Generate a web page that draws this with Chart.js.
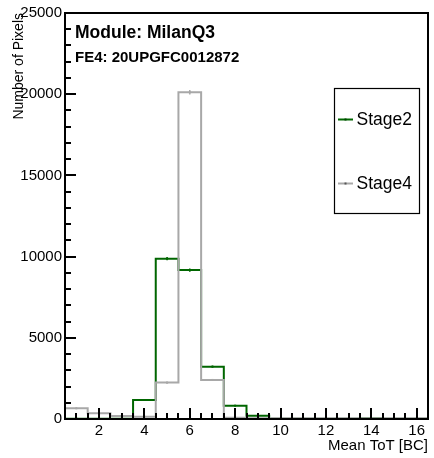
<!DOCTYPE html>
<html>
<head>
<meta charset="utf-8">
<script src="https://cdn.jsdelivr.net/npm/chart.js@4/dist/chart.umd.min.js"></script>
<style>
html,body{margin:0;padding:0;background:#fff;}
#c{display:block;}
</style>
</head>
<body>
<canvas id="c" width="434" height="458"></canvas>
<script>
// ---- data ----
const binCenters = [1, 2, 3, 4, 5, 6, 7, 8, 9, 10, 11, 12, 13, 14, 15, 16];
const stage2 = [20, 10, 10, 1170, 9870, 9170, 3225, 820, 200, 10, 10, 10, 10, 40, 10, 10];
const stage4 = [660, 350, 185, 140, 2240, 20120, 2405, 80, 50, 40, 40, 40, 40, 40, 40, 40];
const seriesNames = ['Stage2', 'Stage4'];
const xTicks = [2, 4, 6, 8, 10, 12, 14, 16];
const yTicks = [0, 5000, 10000, 15000, 20000, 25000];
const titleLine1 = 'Module: MilanQ3';
const titleLine2 = 'FE4: 20UPGFC0012872';
const xTitle = 'Mean ToT [BC]';
const yTitle = 'Number of Pixels';

const GREEN = '#006600';
const GRAY = '#a8a8a8';
const FONT = '"Liberation Sans", Arial, sans-serif';

function stepPoints(vals) {
  const pts = binCenters.map((c, i) => ({x: c - 0.5, y: vals[i]}));
  pts.push({x: binCenters[binCenters.length - 1] + 0.5, y: vals[vals.length - 1]});
  return pts;
}

const errPlugin = {
  id: 'errbars',
  afterDatasetDraw(chart, args) {
    const ds = chart.data.datasets[args.index];
    const vals = ds._vals;
    const ctx = chart.ctx, xs = chart.scales.x, ys = chart.scales.y;
    ctx.save();
    ctx.strokeStyle = ds.borderColor;
    ctx.lineWidth = 1.5;
    binCenters.forEach((c, i) => {
      const v = vals[i];
      if (v <= 0) return;
      const e = Math.sqrt(v);
      const px = xs.getPixelForValue(c);
      ctx.beginPath();
      ctx.moveTo(px, ys.getPixelForValue(v - e));
      ctx.lineTo(px, ys.getPixelForValue(v + e));
      ctx.stroke();
      ctx.fillStyle = ds.borderColor;
      ctx.fillRect(px - 1, ys.getPixelForValue(v) - 1, 2, 2);
    });
    ctx.restore();
  }
};

const framePlugin = {
  id: 'frame',
  afterDraw(chart) {
    const ctx = chart.ctx, a = chart.chartArea, xs = chart.scales.x, ys = chart.scales.y;
    ctx.save();
    ctx.strokeStyle = '#000';
    ctx.lineWidth = 2;
    for (let v = 1; v <= 16; v += 0.5) {
      const px = Math.round(xs.getPixelForValue(v));
      const len = (v % 2 === 0) ? 11 : 6;
      ctx.beginPath();
      ctx.moveTo(px, a.bottom);
      ctx.lineTo(px, a.bottom - len);
      ctx.stroke();
    }
    for (let v = 1000; v < 25000; v += 1000) {
      const py = Math.round(ys.getPixelForValue(v));
      const len = (v % 5000 === 0) ? 11 : 6;
      ctx.beginPath();
      ctx.moveTo(a.left, py);
      ctx.lineTo(a.left + len, py);
      ctx.stroke();
    }
    ctx.strokeRect(a.left, a.top, a.right - a.left, a.bottom - a.top);

    ctx.fillStyle = '#000';
    ctx.font = 'bold 17.5px ' + FONT;
    ctx.textAlign = 'left';
    ctx.textBaseline = 'alphabetic';
    ctx.fillText(titleLine1, 75, 37.5);
    ctx.font = 'bold 15px ' + FONT;
    ctx.fillText(titleLine2, 75, 61.5);

    ctx.font = '15px ' + FONT;
    ctx.textAlign = 'right';
    ctx.fillText(xTitle, 428, 450);
    ctx.save();
    ctx.translate(23, 13);
    ctx.rotate(-Math.PI / 2);
    ctx.font = '14px ' + FONT;
    ctx.textAlign = 'right';
    ctx.fillText(yTitle, 0, 0);
    ctx.restore();

    ctx.fillStyle = '#fff';
    ctx.fillRect(334.5, 88.5, 85, 125);
    ctx.lineWidth = 1.2;
    ctx.strokeStyle = '#000';
    ctx.strokeRect(334.5, 88.5, 85, 125);
    const entries = [{y: 119.5, c: GREEN, mk: '#004400'}, {y: 183.5, c: GRAY, mk: '#555'}];
    entries.forEach((en, i) => {
      ctx.strokeStyle = en.c;
      ctx.lineWidth = 2;
      ctx.beginPath();
      ctx.moveTo(338, en.y);
      ctx.lineTo(353, en.y);
      ctx.stroke();
      ctx.fillStyle = en.mk;
      ctx.fillRect(344.5, en.y - 1, 2, 2);
      ctx.fillStyle = '#000';
      ctx.font = '17.5px ' + FONT;
      ctx.textAlign = 'left';
      ctx.textBaseline = 'middle';
      ctx.fillText(seriesNames[i], 356.5, en.y + 1);
    });
    ctx.restore();
  }
};

new Chart(document.getElementById('c'), {
  type: 'line',
  data: {
    datasets: [
      {label: seriesNames[0], data: stepPoints(stage2), _vals: stage2, borderColor: GREEN, borderWidth: 2,
       stepped: 'before', pointRadius: 0, fill: false, order: 2},
      {label: seriesNames[1], data: stepPoints(stage4), _vals: stage4, borderColor: GRAY, borderWidth: 2,
       stepped: 'before', pointRadius: 0, fill: false, order: 1}
    ]
  },
  options: {
    responsive: false,
    animation: false,
    devicePixelRatio: 1,
    layout: {padding: {left: 0, top: 13, right: 6, bottom: 0}},
    plugins: {legend: {display: false}, tooltip: {enabled: false}},
    scales: {
      x: {
        type: 'linear', min: 0.5, max: 16.5,
        grid: {display: false, drawTicks: false}, border: {display: false},
        afterBuildTicks(s) { s.ticks = xTicks.map(v => ({value: v})); },
        afterFit(s) { s.height = 39; },
        ticks: {color: '#000', font: {size: 15, family: FONT}, padding: 3, maxRotation: 0, autoSkip: false}
      },
      y: {
        type: 'linear', min: 0, max: 25000,
        grid: {display: false, drawTicks: false}, border: {display: false},
        afterBuildTicks(s) { s.ticks = yTicks.map(v => ({value: v})); },
        afterFit(s) { s.width = 65; },
        ticks: {color: '#000', font: {size: 15, family: FONT}, padding: 3, callback: v => String(v)}
      }
    }
  },
  plugins: [errPlugin, framePlugin]
});
</script>
</body>
</html>
